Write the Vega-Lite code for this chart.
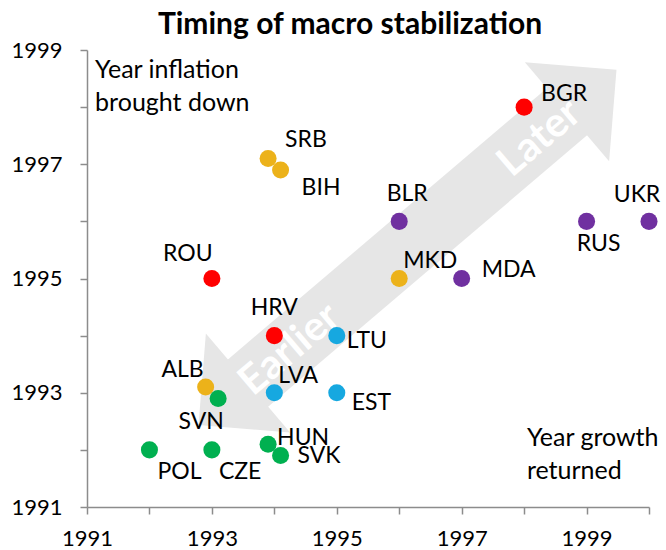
{
  "$schema": "https://vega.github.io/schema/vega-lite/v6.json",
  "autosize": {"type": "none"},
  "padding": {"left": 87, "top": 50, "right": 17, "bottom": 43},
  "width": 562,
  "height": 457,
  "title": {"text": "Timing of macro stabilization", "fontSize": 30, "fontWeight": "bold", "font": "Lato", "color": "black", "anchor": "middle", "frame": "group", "offset": -1, "dx": -18},
  "config": {"font": "Lato", "view": {"stroke": null}, "text": {"baseline": "alphabetic", "fontSize": 23, "color": "black", "font": "Lato"}},
  "layer": [
    {"data": {"values": [{}]}, "mark": {"type": "rule", "strokeWidth": 62, "color": "#E6E6E6", "strokeCap": "butt", "opacity": 1},
      "encoding": {"x": {"datum": 1993.269, "type": "quantitative", "title": null}, "y": {"datum": 1992.881, "type": "quantitative", "title": null}, "x2": {"datum": 1998.997}, "y2": {"datum": 1998.208}}},
    {"data": {"values": [{}]}, "mark": {"type": "point", "shape": "M0,-0.5L1,0.5L-1,0.5Z", "size": 16900, "angle": 49.6, "filled": true, "color": "#E6E6E6", "opacity": 1, "strokeWidth": 0},
      "encoding": {"x": {"datum": 1999.083, "type": "quantitative", "title": null}, "y": {"datum": 1998.287, "type": "quantitative", "title": null}}},
    {"data": {"values": [{}]}, "mark": {"type": "point", "shape": "M0,-0.5L1,0.5L-1,0.5Z", "size": 16900, "angle": 229.6, "filled": true, "color": "#E6E6E6", "opacity": 1, "strokeWidth": 0},
      "encoding": {"x": {"datum": 1993.182, "type": "quantitative", "title": null}, "y": {"datum": 1992.802, "type": "quantitative", "title": null}}},
    {"data": {"values": [{}]}, "mark": {"type": "text", "text": "Earlier", "angle": -40.4, "fontSize": 41, "fontWeight": "bold", "color": "white", "align": "center", "baseline": "middle"},
      "encoding": {"x": {"datum": 1994.25, "type": "quantitative", "title": null}, "y": {"datum": 1993.75, "type": "quantitative", "title": null}}},
    {"data": {"values": [{}]}, "mark": {"type": "text", "text": "Later", "angle": -40.4, "fontSize": 41, "fontWeight": "bold", "color": "white", "align": "center", "baseline": "middle"},
      "encoding": {"x": {"datum": 1998.25, "type": "quantitative", "title": null}, "y": {"datum": 1997.45, "type": "quantitative", "title": null}}},
    {"data": {"values": [{}]}, "mark": {"type": "text", "text": ["Year inflation", "brought down"], "lineHeight": 33, "fontSize": 25, "align": "left", "baseline": "alphabetic"},
      "encoding": {"x": {"datum": 1991.13, "type": "quantitative", "title": null}, "y": {"datum": 1998.517, "type": "quantitative", "title": null}}},
    {"data": {"values": [{}]}, "mark": {"type": "text", "text": ["Year growth", "returned"], "lineHeight": 33, "fontSize": 25, "align": "left", "baseline": "alphabetic"},
      "encoding": {"x": {"datum": 1998.045, "type": "quantitative", "title": null}, "y": {"datum": 1992.06, "type": "quantitative", "title": null}}},
    {
      "data": {"values": [
        {"code": "BGR", "group": "SEE EU", "growth": 1998, "inflation": 1998},
        {"code": "SRB", "group": "Western Balkans", "growth": 1993.9, "inflation": 1997.1},
        {"code": "BIH", "group": "Western Balkans", "growth": 1994.1, "inflation": 1996.9},
        {"code": "BLR", "group": "CIS", "growth": 1996, "inflation": 1996},
        {"code": "RUS", "group": "CIS", "growth": 1999, "inflation": 1996},
        {"code": "UKR", "group": "CIS", "growth": 2000, "inflation": 1996},
        {"code": "ROU", "group": "SEE EU", "growth": 1993, "inflation": 1995},
        {"code": "MKD", "group": "Western Balkans", "growth": 1996, "inflation": 1995},
        {"code": "MDA", "group": "CIS", "growth": 1997, "inflation": 1995},
        {"code": "HRV", "group": "SEE EU", "growth": 1994, "inflation": 1994},
        {"code": "LTU", "group": "Baltics", "growth": 1995, "inflation": 1994},
        {"code": "ALB", "group": "Western Balkans", "growth": 1992.9, "inflation": 1993.1},
        {"code": "SVN", "group": "Central Europe", "growth": 1993.1, "inflation": 1992.9},
        {"code": "LVA", "group": "Baltics", "growth": 1994, "inflation": 1993},
        {"code": "EST", "group": "Baltics", "growth": 1995, "inflation": 1993},
        {"code": "POL", "group": "Central Europe", "growth": 1992, "inflation": 1992},
        {"code": "CZE", "group": "Central Europe", "growth": 1993, "inflation": 1992},
        {"code": "HUN", "group": "Central Europe", "growth": 1993.9, "inflation": 1992.1},
        {"code": "SVK", "group": "Central Europe", "growth": 1994.1, "inflation": 1991.9}
      ]},
      "encoding": {
        "x": {"field": "growth", "type": "quantitative", "scale": {"domain": [1991, 2000], "nice": false, "zero": false},
          "axis": {"title": null, "values": [1991, 1992, 1993, 1994, 1995, 1996, 1997, 1998, 1999, 2000], "format": "d", "labelExpr": "datum.value % 2 == 1 ? datum.label : ''", "grid": false, "domainColor": "#8C8C8C", "tickColor": "#8C8C8C", "domainWidth": 1.5, "tickWidth": 1.5, "tickSize": 7, "labelFontSize": 22, "labelFont": "Lato", "labelColor": "black", "labelPadding": 14, "labelFlush": false, "labelOverlap": false}},
        "y": {"field": "inflation", "type": "quantitative", "scale": {"domain": [1991, 1999], "nice": false, "zero": false},
          "axis": {"title": null, "values": [1991, 1992, 1993, 1994, 1995, 1996, 1997, 1998, 1999], "format": "d", "labelExpr": "datum.value % 2 == 1 ? datum.label : ''", "grid": false, "domainColor": "#8C8C8C", "tickColor": "#8C8C8C", "domainWidth": 1.5, "tickWidth": 1.5, "tickSize": 7, "labelFontSize": 22, "labelFont": "Lato", "labelColor": "black", "labelPadding": 18, "labelFlush": false, "labelOverlap": false}}
      },
      "layer": [
        {"mark": {"type": "point", "filled": true, "size": 290, "opacity": 1, "strokeWidth": 0},
          "encoding": {"color": {"field": "group", "type": "nominal", "legend": null,
            "scale": {"domain": ["SEE EU", "Western Balkans", "CIS", "Baltics", "Central Europe"], "range": ["#FF0000", "#ECB21A", "#7030A0", "#16A8E0", "#00B050"]}}}},
        {"transform": [{"filter": "datum.code === 'BGR'"}], "mark": {"type": "text", "align": "left", "dx": 17, "dy": -6.5}, "encoding": {"text": {"field": "code"}}},
        {"transform": [{"filter": "datum.code === 'SRB'"}], "mark": {"type": "text", "align": "left", "dx": 17, "dy": -11.5}, "encoding": {"text": {"field": "code"}}},
        {"transform": [{"filter": "datum.code === 'BIH'"}], "mark": {"type": "text", "align": "left", "dx": 21, "dy": 25.5}, "encoding": {"text": {"field": "code"}}},
        {"transform": [{"filter": "datum.code === 'BLR'"}], "mark": {"type": "text", "align": "center", "dx": 8, "dy": -20.5}, "encoding": {"text": {"field": "code"}}},
        {"transform": [{"filter": "datum.code === 'UKR'"}], "mark": {"type": "text", "align": "center", "dx": -12, "dy": -19.5}, "encoding": {"text": {"field": "code"}}},
        {"transform": [{"filter": "datum.code === 'RUS'"}], "mark": {"type": "text", "align": "center", "dx": 12, "dy": 29.5}, "encoding": {"text": {"field": "code"}}},
        {"transform": [{"filter": "datum.code === 'ROU'"}], "mark": {"type": "text", "align": "center", "dx": -24, "dy": -17.5}, "encoding": {"text": {"field": "code"}}},
        {"transform": [{"filter": "datum.code === 'MKD'"}], "mark": {"type": "text", "align": "left", "dx": 4, "dy": -10.5}, "encoding": {"text": {"field": "code"}}},
        {"transform": [{"filter": "datum.code === 'MDA'"}], "mark": {"type": "text", "align": "left", "dx": 20, "dy": -1.5}, "encoding": {"text": {"field": "code"}}},
        {"transform": [{"filter": "datum.code === 'HRV'"}], "mark": {"type": "text", "align": "center", "dx": 0, "dy": -20.5}, "encoding": {"text": {"field": "code"}}},
        {"transform": [{"filter": "datum.code === 'LTU'"}], "mark": {"type": "text", "align": "left", "dx": 10, "dy": 12.5}, "encoding": {"text": {"field": "code"}}},
        {"transform": [{"filter": "datum.code === 'LVA'"}], "mark": {"type": "text", "align": "left", "dx": 4, "dy": -9.5}, "encoding": {"text": {"field": "code"}}},
        {"transform": [{"filter": "datum.code === 'EST'"}], "mark": {"type": "text", "align": "left", "dx": 15, "dy": 17.5}, "encoding": {"text": {"field": "code"}}},
        {"transform": [{"filter": "datum.code === 'ALB'"}], "mark": {"type": "text", "align": "right", "dx": -2, "dy": -10.5}, "encoding": {"text": {"field": "code"}}},
        {"transform": [{"filter": "datum.code === 'SVN'"}], "mark": {"type": "text", "align": "center", "dx": -17, "dy": 30.5}, "encoding": {"text": {"field": "code"}}},
        {"transform": [{"filter": "datum.code === 'HUN'"}], "mark": {"type": "text", "align": "left", "dx": 9, "dy": 0.5}, "encoding": {"text": {"field": "code"}}},
        {"transform": [{"filter": "datum.code === 'SVK'"}], "mark": {"type": "text", "align": "left", "dx": 17, "dy": 7.5}, "encoding": {"text": {"field": "code"}}},
        {"transform": [{"filter": "datum.code === 'POL'"}], "mark": {"type": "text", "align": "left", "dx": 8, "dy": 29.5}, "encoding": {"text": {"field": "code"}}},
        {"transform": [{"filter": "datum.code === 'CZE'"}], "mark": {"type": "text", "align": "left", "dx": 7, "dy": 29.5}, "encoding": {"text": {"field": "code"}}}
      ]
    }
  ]
}
